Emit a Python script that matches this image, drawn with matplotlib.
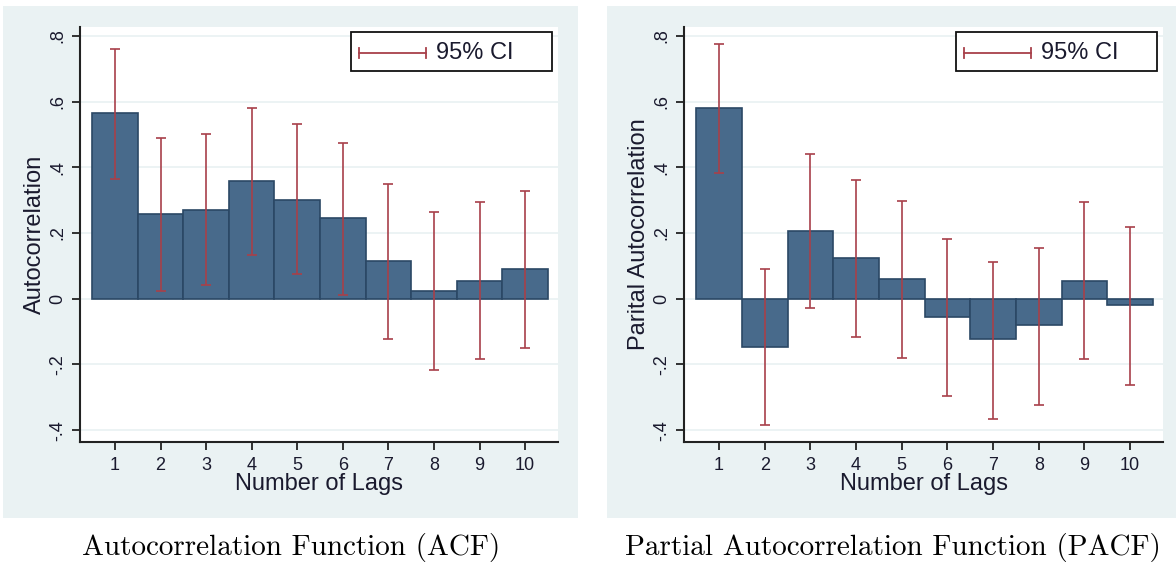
import matplotlib
matplotlib.use("Agg")
import matplotlib.pyplot as plt
import numpy as np
from matplotlib.patches import Rectangle
from matplotlib.lines import Line2D

# values
lags = [1, 2, 3, 4, 5, 6, 7, 8, 9, 10]

acf = [0.566, 0.259, 0.271, 0.358, 0.302, 0.246, 0.116, 0.024, 0.055, 0.089]
acf_hi = [0.761, 0.488, 0.500, 0.579, 0.531, 0.475, 0.350, 0.264, 0.293, 0.327]
acf_lo = [0.365, 0.024, 0.042, 0.132, 0.076, 0.011, -0.123, -0.217, -0.184, -0.149]

pacf = [0.580, -0.146, 0.207, 0.125, 0.059, -0.055, -0.124, -0.080, 0.055, -0.019]
pacf_hi = [0.775, 0.089, 0.440, 0.362, 0.297, 0.181, 0.111, 0.154, 0.293, 0.219]
pacf_lo = [0.384, -0.383, -0.028, -0.115, -0.180, -0.296, -0.365, -0.323, -0.184, -0.262]

yticks = [-0.4, -0.2, 0, 0.2, 0.4, 0.6, 0.8]
ytick_labels = ["-.4", "-.2", "0", ".2", ".4", ".6", ".8"]

BG = "#eaf2f3"
BAR = "#486a8b"
BAR_EDGE = "#2b4865"
CI_COL = "#a8404a"
SANS = ["Liberation Sans", "DejaVu Sans"]

W, H = 1176, 565
fig = plt.figure(figsize=(W / 100, H / 100), dpi=100)
fig.patch.set_facecolor("white")


def px_rect(x0, y0, x1, y1):
    # pixel box (top-left origin) -> figure fraction rect
    return [x0 / W, 1 - y1 / H, (x1 - x0) / W, (y1 - y0) / H]


def panel(bg_box, ax_box, vals, lo, hi, ylabel, caption, cap_x):
    bx = px_rect(*bg_box)
    fig.patches.append(Rectangle((bx[0], bx[1]), bx[2], bx[3], transform=fig.transFigure,
                                 facecolor=BG, edgecolor="none", zorder=-5))
    ax = fig.add_axes(px_rect(*ax_box))
    ax.set_zorder(2)
    ax.set_facecolor("white")
    for y in yticks:
        ax.axhline(y, color=BG, lw=1.3, zorder=0)
    ax.bar(lags, vals, width=1.0, color=BAR, edgecolor=BAR_EDGE, linewidth=1.2, zorder=2)
    vals = np.array(vals)
    yerr = [vals - np.array(lo), np.array(hi) - vals]
    ax.errorbar(lags, vals, yerr=yerr, fmt="none", ecolor=CI_COL, elinewidth=1.2,
                capsize=3.5, capthick=1.2, zorder=3)
    ax.set_xlim(0.233, 10.72)
    ax.set_ylim(-0.436, 0.827)
    for s in ["top", "right"]:
        ax.spines[s].set_visible(False)
    for s in ["left", "bottom"]:
        ax.spines[s].set_color("#222222")
        ax.spines[s].set_linewidth(1.5)
    ax.set_xticks(lags)
    ax.set_xticklabels([str(l) for l in lags], fontsize=13, family=SANS, color="#1a1a2e")
    ax.set_yticks(yticks)
    ax.set_yticklabels(ytick_labels, fontsize=13, family=SANS, color="#1a1a2e",
                       rotation=90, va="center")
    ax.tick_params(axis="both", length=6, width=1.3, color="#222222")
    ax.tick_params(axis="y", pad=4)
    ax.tick_params(axis="x", pad=5)
    ax.set_xlabel("Number of Lags", fontsize=17, family=SANS, color="#1a1a2e", labelpad=-1)
    ax.set_ylabel(ylabel, fontsize=17, family=SANS, color="#1a1a2e", labelpad=2)

    # legend drawn by hand to match the boxed "95% CI" key
    ax.add_patch(Rectangle((0.567, 0.894), 0.42, 0.094, transform=ax.transAxes,
                           facecolor="white", edgecolor="#111111", lw=1.3, zorder=5))
    ax.add_line(Line2D([0.584, 0.724], [0.937, 0.937], transform=ax.transAxes,
                       color=CI_COL, lw=1.3, zorder=6))
    for xe in (0.584, 0.724):
        ax.add_line(Line2D([xe, xe], [0.925, 0.949], transform=ax.transAxes,
                           color=CI_COL, lw=1.3, zorder=6))
    ax.text(0.745, 0.937, "95% CI", transform=ax.transAxes, fontsize=17, family=SANS,
            va="center", ha="left", color="#1a1a2e", zorder=6)

    fig.text(cap_x / W, 1 - 548 / H, caption, family="cmr10", fontsize=21,
             ha="center", va="center")
    return ax


panel((3, 6, 578, 518), (80, 27, 558, 442), acf, acf_lo, acf_hi,
      "Autocorrelation", "Autocorrelation Function (ACF)", 291)
panel((607, 6, 1176, 518), (684, 27, 1163, 442), pacf, pacf_lo, pacf_hi,
      "Parital Autocorrelation", "Partial Autocorrelation Function (PACF)", 893)

fig.savefig("out.png", dpi=100)
